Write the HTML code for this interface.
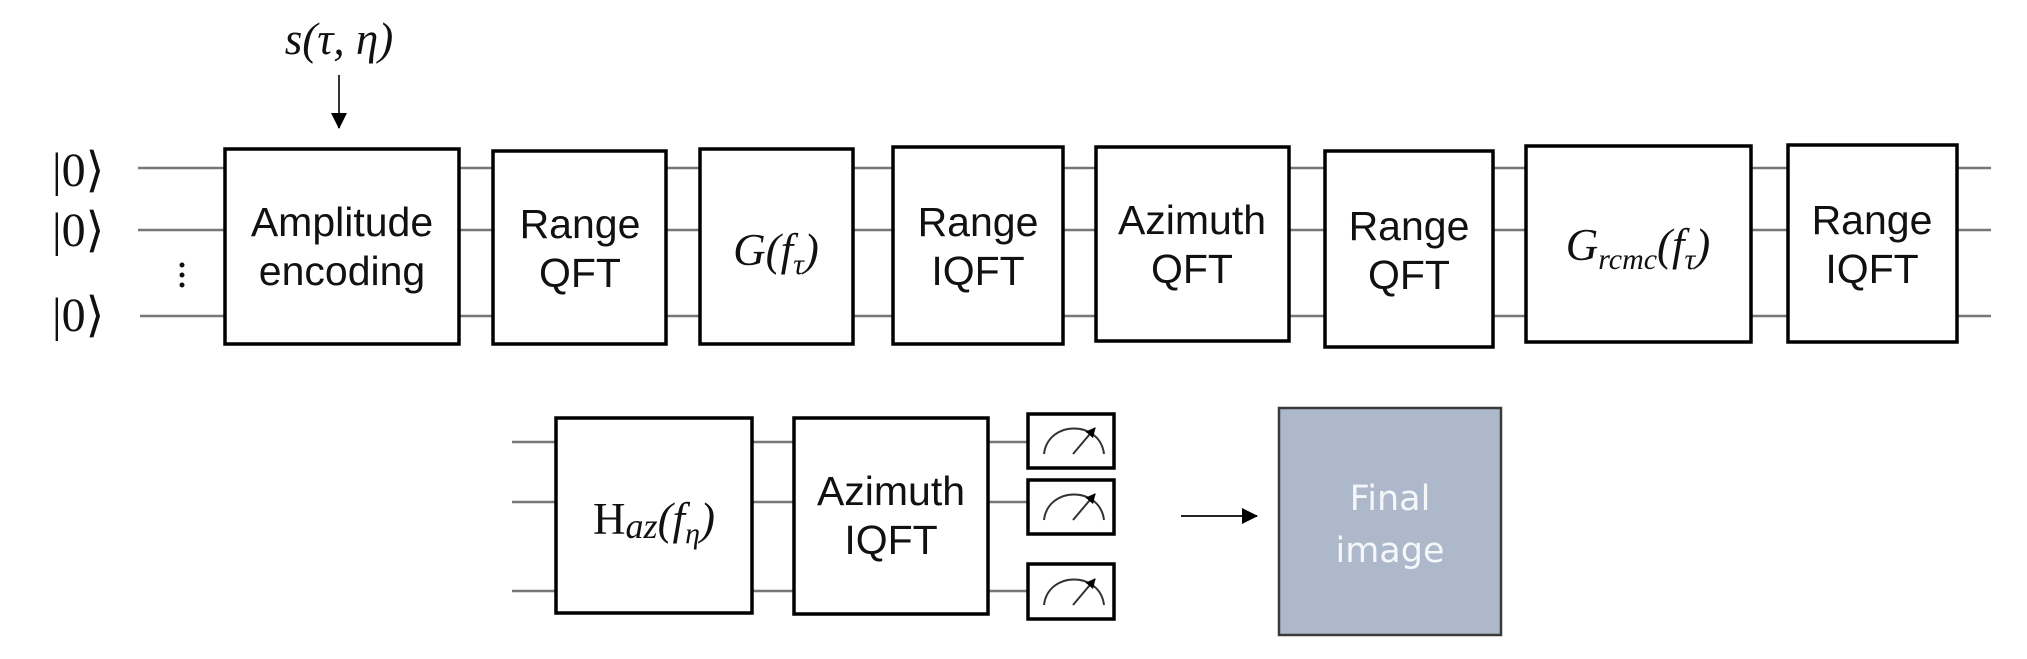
<!DOCTYPE html>
<html><head><meta charset="utf-8"><style>
html,body{margin:0;padding:0;background:#fff;}
svg{display:block}
.b{fill:#fff;stroke:#000;stroke-width:3.5}
.w{stroke:#777;stroke-width:2.5}
.t{font-family:"Liberation Sans",Arial,sans-serif;font-size:41px;fill:#111;text-anchor:middle}
.m{font-family:"Liberation Serif",serif;font-style:italic;font-size:45px;fill:#111;text-anchor:middle}
.k{font-family:"Liberation Serif",serif;font-size:48px;fill:#111}
</style></head><body>
<svg width="2027" height="659" viewBox="0 0 2027 659" xmlns="http://www.w3.org/2000/svg">
<defs><marker id="ah" markerWidth="10" markerHeight="10" refX="9" refY="5" orient="auto" markerUnits="userSpaceOnUse"><path d="M0,0 L10,5 L0,10z" fill="#000"/></marker>
<marker id="ah2" markerWidth="16" markerHeight="16" refX="15" refY="8" orient="auto" markerUnits="userSpaceOnUse"><path d="M0,0 L16,8 L0,16z" fill="#000"/></marker></defs>

<text x="339" y="54" class="m" font-size="46">s(τ, η)</text>
<line x1="339" y1="75" x2="339" y2="128" stroke="#333" stroke-width="2" marker-end="url(#ah2)"/>

<text x="52" y="186" class="k">|0⟩</text>
<text x="52" y="246" class="k">|0⟩</text>
<text x="52" y="331" class="k">|0⟩</text>
<circle cx="182" cy="265" r="2.5" fill="#111"/><circle cx="182" cy="275" r="2.5" fill="#111"/><circle cx="182" cy="285" r="2.5" fill="#111"/>

<g class="w">
<line x1="138" y1="168" x2="1991" y2="168"/>
<line x1="138" y1="230" x2="1991" y2="230"/>
<line x1="140" y1="316" x2="1991" y2="316"/>
<line x1="512" y1="442" x2="1090" y2="442"/>
<line x1="512" y1="502" x2="1090" y2="502"/>
<line x1="512" y1="591" x2="1090" y2="591"/>
</g>

<rect class="b" x="225" y="149" width="234" height="195"/>
<text class="t" x="342" y="236">Amplitude</text><text class="t" x="342" y="285">encoding</text>
<rect class="b" x="493" y="151" width="173" height="193"/>
<text class="t" x="580" y="238">Range</text><text class="t" x="580" y="287">QFT</text>
<rect class="b" x="700" y="149" width="153" height="195"/>
<text class="m" x="776" y="265">G(f<tspan font-size="30" dy="9">τ</tspan><tspan dy="-9">)</tspan></text>
<rect class="b" x="893" y="147" width="170" height="197"/>
<text class="t" x="978" y="236">Range</text><text class="t" x="978" y="285">IQFT</text>
<rect class="b" x="1096" y="147" width="193" height="194"/>
<text class="t" x="1192" y="234">Azimuth</text><text class="t" x="1192" y="283">QFT</text>
<rect class="b" x="1325" y="151" width="168" height="196"/>
<text class="t" x="1409" y="240">Range</text><text class="t" x="1409" y="289">QFT</text>
<rect class="b" x="1526" y="146" width="225" height="196"/>
<text class="m" x="1638" y="260">G<tspan font-size="30" dy="9">rcmc</tspan><tspan dy="-9">(f</tspan><tspan font-size="30" dy="9">τ</tspan><tspan dy="-9">)</tspan></text>
<rect class="b" x="1788" y="145" width="169" height="197"/>
<text class="t" x="1872" y="234">Range</text><text class="t" x="1872" y="283">IQFT</text>

<rect class="b" x="556" y="418" width="196" height="195"/>
<text class="m" x="654" y="534"><tspan font-style="normal">H</tspan><tspan font-size="36" dy="4">az</tspan><tspan dy="-4">(f</tspan><tspan font-size="30" dy="9">η</tspan><tspan dy="-9">)</tspan></text>
<rect class="b" x="794" y="418" width="194" height="196"/>
<text class="t" x="891" y="505">Azimuth</text><text class="t" x="891" y="554">IQFT</text>

<g>
<rect class="b" x="1028" y="414" width="86" height="54"/>
<rect class="b" x="1028" y="480" width="86" height="54"/>
<rect class="b" x="1028" y="564" width="86" height="55"/>
<g fill="none" stroke="#333" stroke-width="2">
<path d="M1044,454 C1048,420 1100,420 1104,454"/><line x1="1073" y1="454" x2="1095" y2="428" marker-end="url(#ah)"/>
<path d="M1044,520 C1048,486 1100,486 1104,520"/><line x1="1073" y1="520" x2="1095" y2="494" marker-end="url(#ah)"/>
<path d="M1044,605 C1048,571 1100,571 1104,605"/><line x1="1073" y1="605" x2="1095" y2="579" marker-end="url(#ah)"/>
</g></g>

<line x1="1181" y1="516" x2="1257" y2="516" stroke="#222" stroke-width="2" marker-end="url(#ah2)"/>
<rect x="1279" y="408" width="222" height="227" fill="#adb9ca" stroke="#3a3a3a" stroke-width="2.5"/>
<text x="1390" y="510" font-family="'DejaVu Sans','Liberation Sans',sans-serif" font-size="35" fill="#f4f6fa" text-anchor="middle">Final</text>
<text x="1390" y="562" font-family="'DejaVu Sans','Liberation Sans',sans-serif" font-size="35" fill="#f4f6fa" text-anchor="middle">image</text>
</svg>
</body></html>
